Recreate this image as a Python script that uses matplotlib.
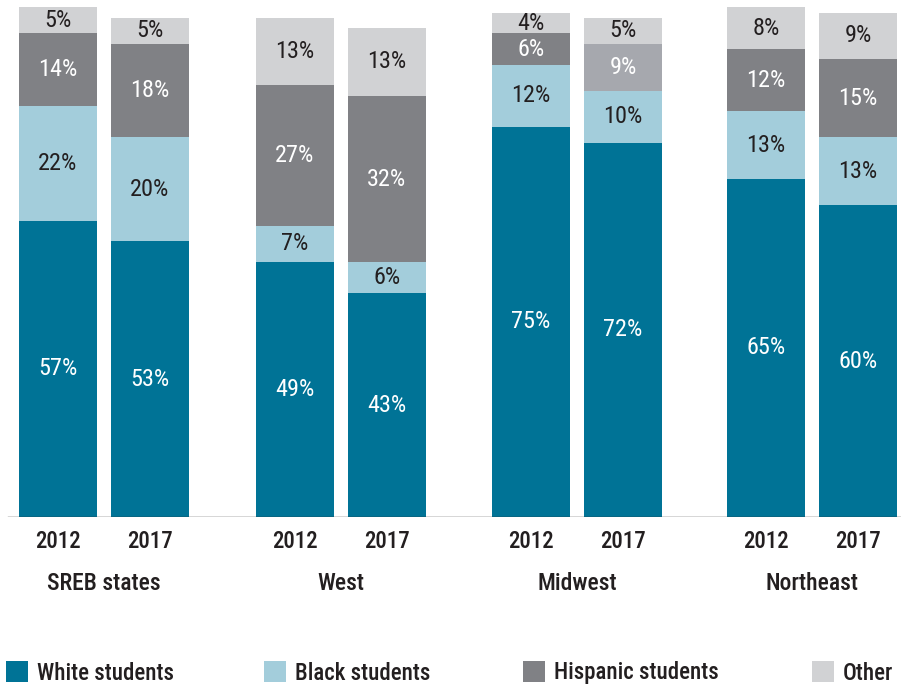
import numpy as np
import matplotlib
matplotlib.use('Agg')
import matplotlib.pyplot as plt
from matplotlib.patches import Rectangle

plt.rcParams['font.family'] = ['Roboto Condensed', 'Barlow Semi Condensed',
                               'Archivo Narrow', 'Liberation Sans', 'DejaVu Sans']

# %% data
regions = ['SREB states', 'West', 'Midwest', 'Northeast']
years = ['2012', '2017']
series = ['White students', 'Black students', 'Hispanic students', 'Other']
white = [57, 53, 49, 43, 75, 72, 65, 60]
black = [22, 20, 7, 6, 12, 10, 13, 13]
hispanic = [14, 18, 27, 32, 6, 9, 12, 15]
other = [5, 5, 13, 13, 4, 5, 8, 9]

colors = ['#007396', '#a3cddb', '#808185', '#d1d2d4']
txt_colors = ['white', '#231f20', 'white', '#231f20']
dark = '#231f20'

W, H = 901, 690
fig = plt.figure(figsize=(W/100, H/100), dpi=100)
base = 517
scale = 5.2  # px per percent
ax = fig.add_axes([0, (H-base)/H, 1, base/H])
ax.set_xlim(0, W)
ax.set_ylim(0, base/scale)
ax.axis('off')

group_c = np.array([104, 341, 577, 812])
xs = np.ravel([[g-46, g+46] for g in group_c])
bw = 78

vals = [white, black, hispanic, other]
bottom = np.zeros(len(xs))
for k, v in enumerate(vals):
    v = np.array(v, dtype=float)
    cols = [colors[k]]*len(xs)
    if k == 2:
        cols[5] = '#a6a8ae'  # Midwest 2017 is lighter in the source
    ax.bar(xs, v, width=bw, bottom=bottom, color=cols, linewidth=0)
    for i in range(len(xs)):
        ax.text(xs[i], bottom[i]+v[i]/2, '%d%%' % v[i], ha='center', va='center',
                color=txt_colors[k], fontsize=17.5)
    bottom += v

ax.axhline(0, xmin=8/W, xmax=900/W, color='#333333', lw=1)

for i, x in enumerate(xs):
    fig.text(x/W, 1-541/H, years[i % 2], ha='center', va='center',
             fontsize=16.5, color=dark, fontweight='medium')
for g, name in zip(group_c, regions):
    fig.text(g/W, 1-583/H, name, ha='center', va='center',
             fontsize=17, color=dark, fontweight='medium')

leg_x = [6, 264, 523, 812]
for x, lab, c in zip(leg_x, series, colors):
    fig.patches.append(Rectangle((x/W, 1-682/H), 22/W, 21/H, transform=fig.transFigure,
                                 facecolor=c, edgecolor='none'))
    fig.text((x+31)/W, 1-673/H, lab, ha='left', va='center',
             fontsize=16.5, color=dark, fontweight='medium')

fig.savefig('out.png', dpi=100)
